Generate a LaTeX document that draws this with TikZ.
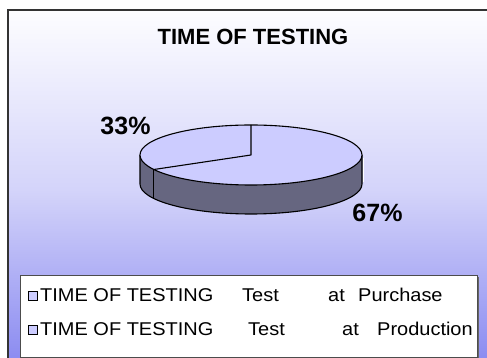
\documentclass[tikz,border=0pt]{standalone}
\usepackage{fontspec}
\setmainfont{Liberation Sans}
\usepackage{graphicx}
\definecolor{bgtop}{RGB}{253,253,255}
\definecolor{bgbot}{RGB}{135,135,240}
\definecolor{pietop}{RGB}{204,204,255}
\definecolor{pieside}{RGB}{102,102,128}
\definecolor{framec}{RGB}{51,51,51}
\tikzset{
  pieline/.style={draw=black, line width=1.1pt, line join=round},
  titletext/.style={font=\fontsize{22}{24}\selectfont\bfseries, inner sep=0pt},
  pcttext/.style={font=\fontsize{25}{28}\selectfont\bfseries, inner sep=0pt},
  legtext/.style={font=\fontsize{18.5}{20}\selectfont, inner sep=0pt, anchor=base west},
  legmark/.style={draw=black, fill=pietop, line width=1pt, minimum size=9pt, inner sep=0pt},
}
\newcommand{\legstr}[1]{\scalebox{1.08}[1]{#1}}
\begin{document}
\begin{tikzpicture}[x=1pt,y=1pt]
\useasboundingbox (0,0) rectangle (487,358);
\fill[white] (0,0) rectangle (487,358);
% background with gradient inside frame
\begin{scope}
\clip (0,0) rectangle (487,358);
\shade[top color=bgtop, bottom color=bgbot, middle color=bgtop!65!bgbot] (8,-12) rectangle (500,348);
\draw[framec, line width=1.8pt] (8,-12) rectangle (500,348);
\end{scope}
% title
\node[titletext, anchor=base] (title) at (253,313) {TIME OF TESTING};
% pie
\coordinate (c) at (251,203);
\coordinate (ctop) at (251,233);
\coordinate (csl) at (153.9,188.5);
\coordinate (cslb) at (153.9,159.5);
\fill[pieside] (140,203) arc[start angle=180, end angle=360, x radius=111, y radius=30]
   -- (362,174) arc[start angle=0, end angle=-180, x radius=111, y radius=30] -- cycle;
\draw[pieline] (140,203) -- (140,174) arc[start angle=180, end angle=360, x radius=111, y radius=30] -- (362,203);
\draw[white, line width=0.8pt] (363.2,200) -- (363.2,176);
\filldraw[pieline, fill=pietop] (c) ellipse[x radius=111, y radius=30];
\draw[pieline] (ctop) -- (c) -- (csl);
\draw[pieline] (csl) -- (cslb);
% labels
\node[pcttext, anchor=base] (p33) at (125.5,223) {33\%};
\node[pcttext, anchor=base] (p67) at (377.5,136) {67\%};
% legend
\fill[black!60] (22,-1) rectangle (479,81);
\filldraw[fill=white, draw=black!70, line width=0.8pt] (20,1) rectangle (477,83);
\node[legmark] (m1) at (32.5,62) {};
\node[legmark] (m2) at (32.5,28) {};
\node[legtext] (l1a) at (40,56) {\legstr{TIME OF TESTING}};
\node[legtext] (l1b) at (242,56) {\legstr{Test}};
\node[legtext] (l1c) at (328,56) {\legstr{at}};
\node[legtext] (l1d) at (358,56) {\legstr{Purchase}};
\node[legtext] (l2a) at (40,22) {\legstr{TIME OF TESTING}};
\node[legtext] (l2b) at (248,22) {\legstr{Test}};
\node[legtext] (l2c) at (342,22) {\legstr{at}};
\node[legtext] (l2d) at (377,22) {\legstr{Production}};
\end{tikzpicture}
\end{document}
